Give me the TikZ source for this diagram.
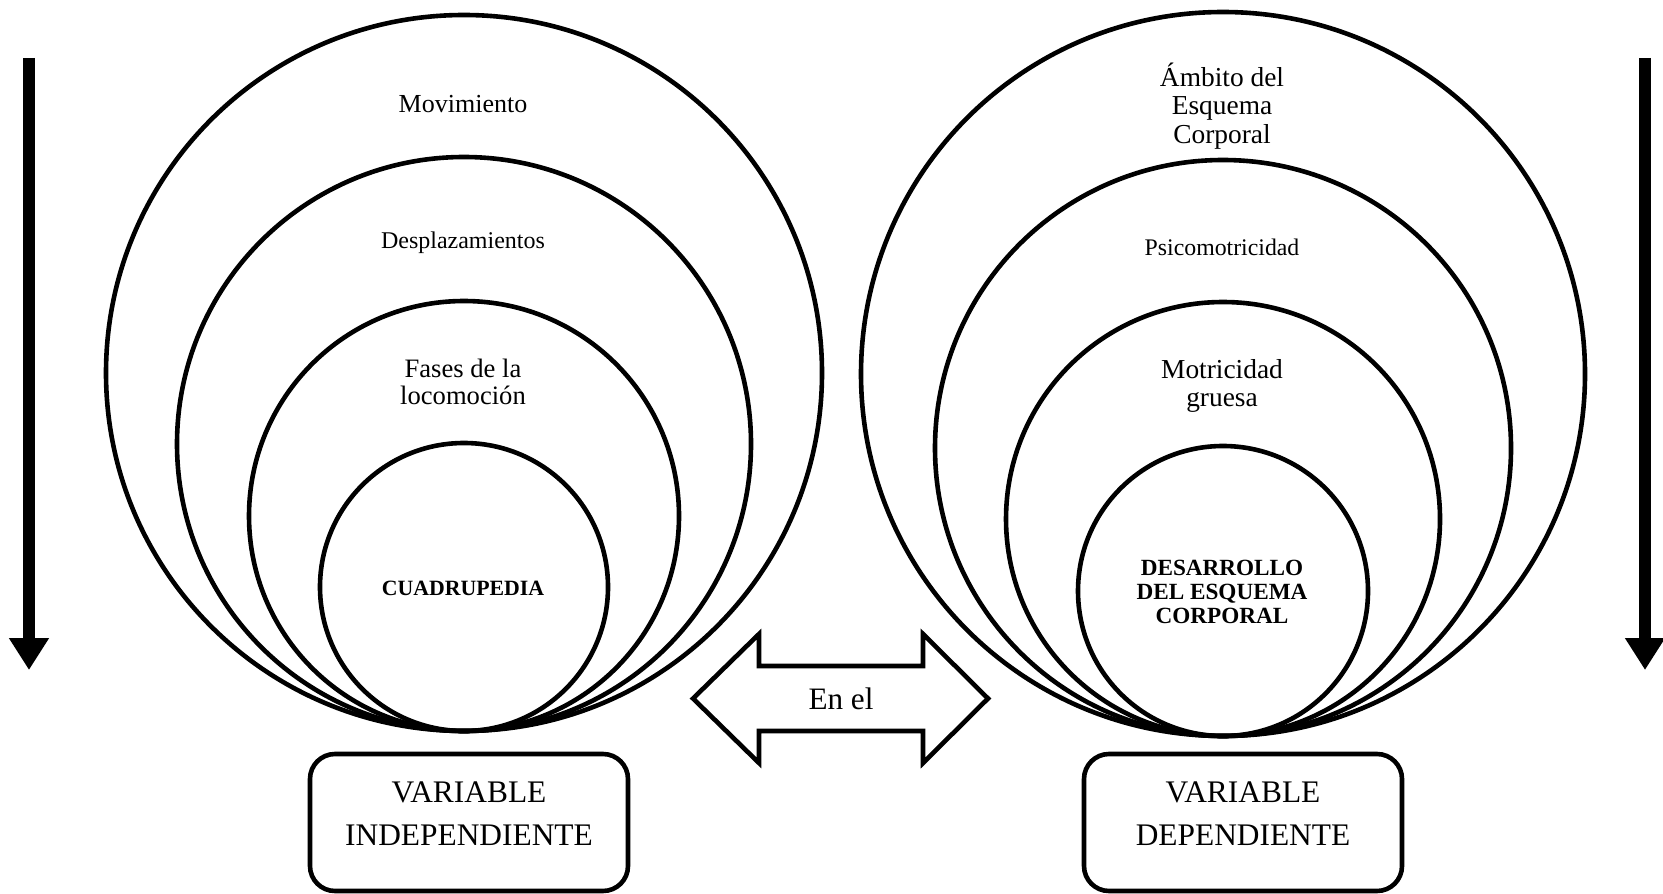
\documentclass[tikz,border=0pt]{standalone}
\usepackage{fontspec}
\setmainfont{Liberation Serif}
\usetikzlibrary{arrows.meta, positioning}

\begin{document}
\begin{tikzpicture}[x=0.5pt, y=-0.5pt,
    ring/.style={draw, circle, line width=2.3pt, inner sep=0pt},
    varbox/.style={draw, rounded corners=12.5pt, line width=2.3pt, minimum width=159pt, minimum height=68.5pt},
    txt/.style={align=center, inner sep=0pt},
    flow/.style={line width=6pt, -{Triangle[width=19pt,length=16pt]}}]

  \useasboundingbox (0,0) rectangle (1663,893);

  % variable independiente
  \node[ring, minimum size=358pt] (mov)   at (464,373) {};
  \node[ring, minimum size=287pt] (desp)  at (464,444) {};
  \node[ring, minimum size=215pt] (fases) at (464,516) {};
  \node[ring, minimum size=144pt] (cuad)  at (464,587) {};

  \node[txt, font=\fontsize{13}{15}\selectfont]       (tmov)   at (463,104) {Movimiento};
  \node[txt, font=\fontsize{12}{14}\selectfont]       (tdesp)  at (463,243) {Desplazamientos};
  \node[txt, font=\fontsize{13.3}{13.85}\selectfont]  (tfases) at (463,382) {Fases de la\\locomoción};
  \node[txt, font=\bfseries\fontsize{10.9}{13}\selectfont] (tcuad) at (463,588) {CUADRUPEDIA};

  % variable dependiente
  \node[ring, minimum size=362pt] (ambito) at (1223,374) {};
  \node[ring, minimum size=288pt] (psico)  at (1223,448) {};
  \node[ring, minimum size=217pt] (motri)  at (1223,519) {};
  \node[ring, minimum size=145pt] (desa)   at (1223,591) {};

  \node[txt, font=\fontsize{13.7}{14.15}\selectfont] (tamb)   at (1222,106) {Ámbito del\\Esquema\\Corporal};
  \node[txt, font=\fontsize{11.9}{14}\selectfont]    (tpsico) at (1222,247) {Psicomotricidad};
  \node[txt, font=\fontsize{13.7}{14}\selectfont]    (tmotri) at (1222,386) {Motricidad\\gruesa};
  \node[txt, font=\bfseries\fontsize{11.6}{12.2}\selectfont] (tdesa) at (1222,592) {DESARROLLO\\DEL ESQUEMA\\CORPORAL};

  % doble flecha
  \draw[line width=2.3pt] (693,698.5) -- (759,634) -- (759,666) -- (923,666) -- (923,634) -- (988,698.5)
        -- (923,763) -- (923,731) -- (759,731) -- (759,763) -- cycle;
  \node[font=\fontsize{15.6}{18}\selectfont] (enel) at (841,699) {En el};

  % cajas
  \node[varbox] (vind) at (469,822.5) {};
  \node[txt, font=\fontsize{15.7}{21.2}\selectfont] (tvind) at (469,813.5) {VARIABLE\\INDEPENDIENTE};
  \node[varbox] (vdep) at (1243,822.5) {};
  \node[txt, font=\fontsize{15.7}{21.2}\selectfont] (tvdep) at (1243,813.5) {VARIABLE\\DEPENDIENTE};

  % flechas laterales
  \coordinate (ltop) at (29,58);
  \coordinate (lbot) at (29,670);
  \coordinate (rtop) at (1645,58);
  \coordinate (rbot) at (1645,670);
  \draw[flow] (ltop) -- (lbot);
  \draw[flow] (rtop) -- (rbot);
\end{tikzpicture}
\end{document}
